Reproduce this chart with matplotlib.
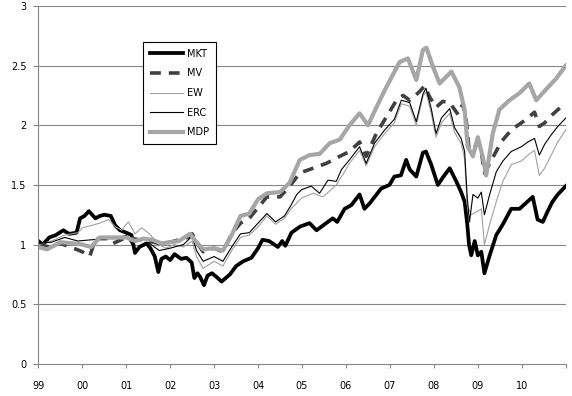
import matplotlib
matplotlib.use("Agg")
import matplotlib.pyplot as plt

# values (year fraction, cumulative value)
mkt_t = [1999.0, 1999.1, 1999.25, 1999.4, 1999.57, 1999.7, 1999.87, 1999.95, 2000.05, 2000.15,
         2000.3, 2000.4, 2000.5, 2000.65, 2000.75, 2000.86, 2001.0, 2001.12, 2001.2, 2001.3,
         2001.46, 2001.55, 2001.65, 2001.73, 2001.8, 2001.9, 2002.0, 2002.1, 2002.25, 2002.37,
         2002.49, 2002.55, 2002.62, 2002.68, 2002.77, 2002.85, 2002.95, 2003.05, 2003.17, 2003.36,
         2003.5, 2003.66, 2003.85, 2004.0, 2004.1, 2004.25, 2004.45, 2004.55, 2004.62, 2004.76,
         2004.95, 2005.17, 2005.33, 2005.55, 2005.7, 2005.8, 2005.97, 2006.12, 2006.31, 2006.42,
         2006.55, 2006.8, 2006.99, 2007.1, 2007.25, 2007.37, 2007.45, 2007.6, 2007.75, 2007.82,
         2007.94, 2008.09, 2008.2, 2008.36, 2008.51, 2008.62, 2008.7, 2008.76, 2008.8, 2008.85,
         2008.93, 2009.0, 2009.08, 2009.15, 2009.27, 2009.42, 2009.57, 2009.76, 2009.95, 2010.1,
         2010.25, 2010.36, 2010.48, 2010.59, 2010.7, 2010.82, 2011.0]
mkt_v = [1.03, 1.00, 1.06, 1.08, 1.12, 1.09, 1.10, 1.22, 1.24, 1.28,
         1.22, 1.24, 1.25, 1.24, 1.16, 1.12, 1.10, 1.08, 0.93, 0.98,
         1.01, 0.97, 0.90, 0.77, 0.88, 0.90, 0.87, 0.92, 0.88, 0.89,
         0.85, 0.72, 0.76, 0.73, 0.66, 0.74, 0.76, 0.73, 0.69, 0.75,
         0.82, 0.86, 0.89, 0.97, 1.04, 1.03, 0.98, 1.03, 0.99, 1.10,
         1.15, 1.18, 1.12, 1.18, 1.22, 1.19, 1.30, 1.33, 1.42, 1.30,
         1.35, 1.47, 1.50, 1.57, 1.58, 1.71, 1.63, 1.57, 1.77, 1.78,
         1.67, 1.50, 1.56, 1.64, 1.53, 1.44, 1.36, 1.17, 1.00, 0.91,
         1.03, 0.91, 0.94, 0.76, 0.91, 1.08, 1.17, 1.30, 1.30, 1.35,
         1.40, 1.21, 1.19, 1.28, 1.36, 1.42, 1.49]

mv_t = [1999.0, 1999.25, 1999.5, 1999.8, 2000.0, 2000.17, 2000.3, 2000.6, 2000.7, 2001.0,
        2001.3, 2001.5, 2001.75, 2002.0, 2002.4, 2002.5, 2002.6, 2002.75, 2003.0, 2003.2,
        2003.4, 2003.6, 2003.8, 2004.0, 2004.2, 2004.5, 2004.72, 2004.95, 2005.25, 2005.55,
        2005.86, 2006.08, 2006.31, 2006.46, 2006.69, 2006.92, 2007.15, 2007.3, 2007.45, 2007.67,
        2007.79, 2007.9, 2008.05, 2008.2, 2008.36, 2008.55, 2008.66, 2008.74, 2008.8, 2008.9,
        2009.0, 2009.08, 2009.15, 2009.3, 2009.53, 2009.76, 2009.99, 2010.14, 2010.29, 2010.4,
        2010.52, 2010.7, 2010.82, 2011.0]
mv_v = [1.00, 0.98, 1.01, 0.97, 0.94, 0.90, 1.05, 1.05, 1.01, 1.06,
        1.04, 1.03, 1.01, 1.02, 1.06, 1.09, 1.02, 0.94, 0.97, 0.94,
        1.09, 1.18, 1.22, 1.31, 1.40, 1.40, 1.49, 1.60, 1.64, 1.68,
        1.74, 1.78, 1.86, 1.74, 1.93, 2.07, 2.21, 2.25, 2.21, 2.28,
        2.33, 2.24, 2.15, 2.20, 2.19, 2.09, 2.18, 2.03, 1.80, 1.80,
        1.86, 1.78, 1.60, 1.70, 1.86, 1.96, 2.02, 2.06, 2.11, 1.99,
        2.02, 2.09, 2.13, 2.19]

ew_t = [1999.0, 1999.3, 1999.6, 1999.9, 2000.0, 2000.2, 2000.4, 2000.6, 2000.75, 2000.9,
        2001.0, 2001.05, 2001.2, 2001.35, 2001.5, 2001.6, 2001.75, 2001.9, 2002.1, 2002.3,
        2002.5, 2002.6, 2002.75, 2003.0, 2003.2, 2003.4, 2003.6, 2003.8, 2004.0, 2004.2,
        2004.4, 2004.6, 2004.75, 2004.99, 2005.25, 2005.48, 2005.78, 2005.95, 2006.08, 2006.31,
        2006.46, 2006.65, 2006.88, 2007.1, 2007.26, 2007.45, 2007.6, 2007.75, 2007.82, 2007.94,
        2008.05, 2008.17, 2008.36, 2008.47, 2008.62, 2008.7, 2008.76, 2008.85, 2009.0, 2009.08,
        2009.15, 2009.27, 2009.42, 2009.57, 2009.76, 2009.99, 2010.14, 2010.29, 2010.4, 2010.52,
        2010.67, 2010.82, 2011.0]
ew_v = [1.00, 1.03, 1.08, 1.10, 1.14, 1.16, 1.18, 1.21, 1.15, 1.12,
        1.17, 1.19, 1.09, 1.14, 1.10, 1.06, 1.00, 0.97, 1.00, 0.98,
        1.03, 0.90, 0.80, 0.86, 0.82, 0.95, 1.06, 1.08, 1.15, 1.24,
        1.17, 1.22, 1.30, 1.39, 1.43, 1.40, 1.50, 1.60, 1.68, 1.79,
        1.66, 1.82, 1.93, 2.02, 2.18, 2.16, 2.00, 2.24, 2.28, 2.10,
        1.90, 2.02, 2.10, 1.94, 1.85, 1.72, 1.33, 1.25, 1.28, 1.30,
        1.00, 1.17, 1.36, 1.53, 1.67, 1.70, 1.75, 1.79, 1.58, 1.64,
        1.75, 1.86, 1.96]

erc_t = [1999.0, 1999.3, 1999.6, 1999.9, 2000.2, 2000.5, 2000.8, 2001.0, 2001.2, 2001.5,
         2001.75, 2002.0, 2002.3, 2002.5, 2002.6, 2002.75, 2003.0, 2003.2, 2003.4, 2003.6,
         2003.8, 2004.0, 2004.2, 2004.4, 2004.6, 2004.75, 2004.88, 2004.99, 2005.21, 2005.4,
         2005.59, 2005.78, 2005.9, 2006.08, 2006.31, 2006.46, 2006.65, 2006.88, 2007.1, 2007.26,
         2007.45, 2007.6, 2007.75, 2007.82, 2007.94, 2008.05, 2008.17, 2008.36, 2008.47, 2008.62,
         2008.7, 2008.76, 2008.81, 2008.89, 2009.0, 2009.08, 2009.15, 2009.27, 2009.42, 2009.57,
         2009.76, 2009.99, 2010.14, 2010.29, 2010.4, 2010.52, 2010.67, 2010.82, 2011.0]
erc_v = [1.01, 1.02, 1.06, 1.03, 1.04, 1.05, 1.05, 1.08, 0.96, 1.02,
         0.95, 0.97, 1.00, 1.07, 0.95, 0.86, 0.90, 0.86, 0.98, 1.09,
         1.10, 1.18, 1.26, 1.19, 1.24, 1.33, 1.42, 1.46, 1.49, 1.43,
         1.54, 1.53, 1.63, 1.71, 1.82, 1.68, 1.85, 1.96, 2.05, 2.21,
         2.19, 2.03, 2.26, 2.31, 2.14, 1.93, 2.06, 2.14, 1.98, 1.89,
         1.78, 1.39, 1.19, 1.42, 1.39, 1.44, 1.25, 1.42, 1.61, 1.70,
         1.78, 1.82, 1.86, 1.89, 1.75, 1.84, 1.92, 1.99, 2.06]

mdp_t = [1999.0, 1999.2, 1999.5, 1999.8, 2000.0, 2000.2, 2000.4, 2000.7, 2001.0, 2001.2,
         2001.4, 2001.6, 2001.8, 2002.0, 2002.2, 2002.45, 2002.6, 2002.75, 2003.0, 2003.2,
         2003.4, 2003.6, 2003.8, 2004.0, 2004.2, 2004.5, 2004.72, 2004.95, 2005.17, 2005.4,
         2005.63, 2005.86, 2006.08, 2006.31, 2006.5, 2006.77, 2006.92, 2007.22, 2007.41, 2007.6,
         2007.75, 2007.83, 2007.98, 2008.13, 2008.4, 2008.58, 2008.7, 2008.77, 2008.89, 2009.0,
         2009.11, 2009.19, 2009.34, 2009.49, 2009.72, 2009.95, 2010.17, 2010.33, 2010.55, 2010.78,
         2011.0]
mdp_v = [0.98, 0.96, 1.02, 1.01, 1.00, 0.98, 1.06, 1.06, 1.06, 1.03,
         1.05, 1.04, 1.01, 1.02, 1.03, 1.09, 1.02, 0.96, 0.97, 0.95,
         1.08, 1.24, 1.26, 1.38, 1.43, 1.44, 1.52, 1.71, 1.75, 1.76,
         1.85, 1.88, 2.00, 2.10, 2.00, 2.21, 2.32, 2.53, 2.56, 2.38,
         2.63, 2.65, 2.49, 2.35, 2.45, 2.32, 2.13, 1.82, 1.74, 1.90,
         1.74, 1.58, 1.93, 2.13, 2.21, 2.27, 2.35, 2.21, 2.30, 2.39,
         2.50]

years = list(range(1999, 2012))
year_labels = ['99', '00', '01', '02', '03', '04', '05', '06', '07', '08', '09', '10', '']
y_ticks = [0, 0.5, 1, 1.5, 2, 2.5, 3]
y_labels = ['0', '0.5', '1', '1.5', '2', '2.5', '3']

grid_c = '#868686'

fig = plt.figure(figsize=(5.72, 3.96), dpi=100)
ax = fig.add_axes([0.067, 0.081, 0.922, 0.904])

ax.plot(mkt_t, mkt_v, color='black', lw=2.7, label='MKT', solid_joinstyle='round')
ax.plot(mv_t, mv_v, color='#404040', lw=2.6, dashes=(3, 2.2), label='MV')
ax.plot(ew_t, ew_v, color='#a0a0a0', lw=0.8, label='EW')
ax.plot(erc_t, erc_v, color='black', lw=0.8, label='ERC')
ax.plot(mdp_t, mdp_v, color='#a6a6a6', lw=3.0, label='MDP', solid_joinstyle='round')

ax.set_xlim(1999, 2011)
ax.set_ylim(0, 3)
ax.set_xticks(years)
ax.set_xticklabels(year_labels)
ax.set_yticks(y_ticks)
ax.set_yticklabels(y_labels)

for v in y_ticks[1:]:
    ax.axhline(v, color=grid_c, lw=0.8, zorder=0)

for s in ['top', 'right']:
    ax.spines[s].set_visible(False)
for s in ['left', 'bottom']:
    ax.spines[s].set_color(grid_c)
    ax.spines[s].set_linewidth(0.8)

ax.tick_params(axis='x', direction='out', length=3, width=0.8, color=grid_c, pad=9, labelsize=7)
ax.tick_params(axis='y', direction='out', length=3.5, width=0.8, color=grid_c, pad=5, labelsize=7)

leg = ax.legend(loc='upper left', bbox_to_anchor=(0.198, 0.900), borderaxespad=0,
                fontsize=7, handlelength=3.4, handletextpad=0.5, labelspacing=1.0,
                borderpad=0.7, fancybox=False, framealpha=1)
leg.get_frame().set_edgecolor('black')
leg.get_frame().set_linewidth(0.8)

fig.savefig('out.png', dpi=100)
